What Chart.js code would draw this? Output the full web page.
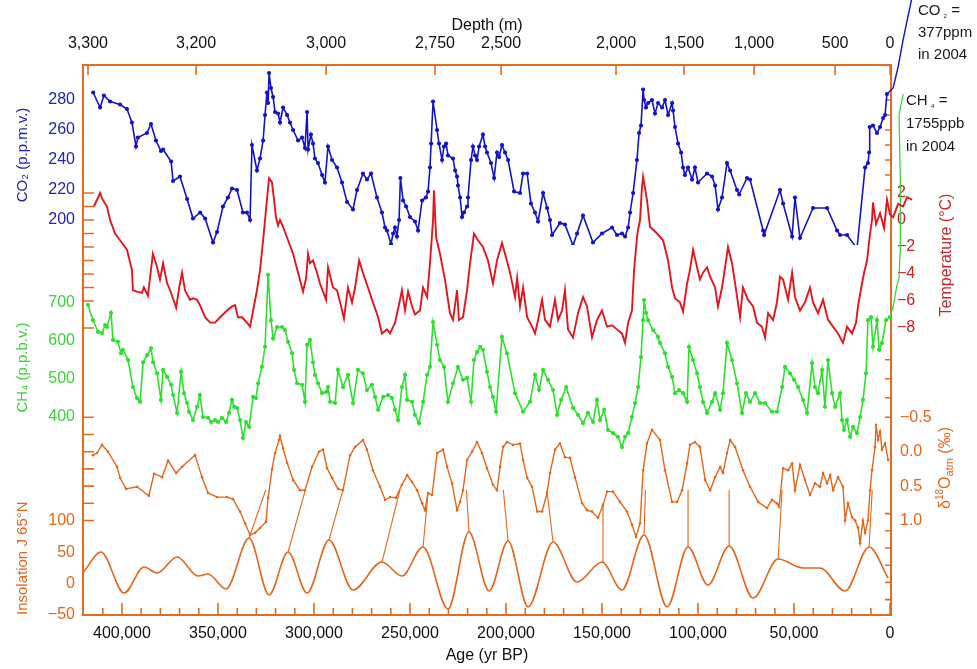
<!DOCTYPE html>
<html>
<head>
<meta charset="utf-8">
<script src="https://cdn.jsdelivr.net/npm/chart.js@4.4.1/dist/chart.umd.min.js"></script>
<style>
  html, body { margin: 0; padding: 0; background: #fff; }
  #wrap { width: 977px; height: 669px; }
</style>
</head>
<body>
<div id="wrap"><canvas id="vostok" width="977" height="669"></canvas></div>
<script>
// all ages in kyr BP
const co2Age = [
  415.0,411.4,409.4,406.2,401.0,397.4,394.8,392.7,391.7,387.0,
  384.9,382.3,379.7,378.6,374.4,373.4,369.8,366.1,363.0,359.3,
  356.7,352.6,350.5,347.4,344.8,342.7,340.1,337.0,334.9,333.3,
  332.3,329.7,328.1,326.5,325.5,324.5,323.9,323.4,322.4,321.3,
  320.3,318.7,317.7,316.1,314.0,312.5,310.9,308.3,306.2,304.7,
  303.6,303.1,301.6,300.5,299.5,297.9,295.8,294.3,292.7,290.6,
  288.0,285.4,282.8,279.7,277.6,274.5,272.4,270.3,267.2,264.6,
  263.0,262.0,259.9,258.8,257.8,256.8,255.7,255.0,253.6,252.0,
  250.0,247.4,245.8,243.7,241.7,240.6,239.6,239.0,238.0,235.9,
  234.9,233.3,232.3,231.2,230.2,227.6,226.5,225.5,225.0,223.9,
  222.9,221.9,220.3,219.8,218.2,217.2,216.1,215.1,214.0,212.0,
  210.9,209.9,207.8,206.2,204.7,203.6,202.1,200.5,198.9,195.8,
  192.7,191.1,189.0,187.0,184.9,183.3,180.7,178.6,177.1,176.0,
  171.9,169.3,165.1,163.0,159.9,154.7,150.0,144.8,142.2,139.6,
  138.0,136.4,135.4,133.8,131.8,130.7,129.7,128.6,128.1,127.1,
  126.0,124.0,122.4,120.8,118.7,117.2,115.6,113.5,113.0,112.0,
  110.4,108.8,107.8,106.8,105.2,103.1,101.6,100.0,95.3,92.7,
  91.1,89.6,87.5,84.9,83.3,79.7,78.6,74.5,72.9,66.1,
  65.6,57.3,55.7,51.0,49.5,46.9,40.1,32.8,27.6,26.0,
  22.4,17.2,13.0,11.5,10.9,10.6,8.9,6.8,5.2,3.6,
  2.6,1.6
];
const co2Ppm = [
  285,275,283,279,277,274,265,249,255,258,
  264,253,246,247,239,226,229,214,201,205,
  201,185,192,209,215,221,220,205,205,200,
  250,233,241,253,270,285,278,298,288,282,
  272,271,265,275,270,265,260,253,255,248,
  272,247,257,251,241,238,230,225,249,240,
  235,225,212,207,220,231,227,231,215,205,
  195,193,184,191,195,189,200,228,213,209,
  202,199,193,213,215,219,235,251,279,260,
  251,240,249,251,243,241,233,229,223,215,
  202,205,209,215,240,249,243,240,249,257,
  249,245,238,228,245,242,250,245,240,219,
  218,231,231,211,205,199,218,208,200,190,
  198,197,183,191,203,185,191,195,190,191,
  189,195,205,218,240,258,263,287,280,275,
  278,280,271,278,275,280,270,278,273,262,
  251,245,235,230,235,227,235,225,231,229,
  223,207,215,238,233,220,217,228,227,193,
  190,220,211,189,215,188,208,208,193,190,
  190,181,235,238,245,262,263,258,262,268,
  270,284
];
// modern rise drawn past the frame
const co2ModAge = [1.6,-1.6,-4.2,-6.8,-8.9,-10.9,-14.6];
const co2ModPpm = [284,288,302,320,333,345,377];

const tempAge = [
  414.6,411.4,410.4,407.8,406.2,403.6,401.0,397.4,394.8,394.3,
  392.2,389.6,388.6,386.5,383.9,381.7,380.2,378.6,376.5,374.9,
  371.8,370.2,368.7,367.2,364.6,363.0,360.9,359.4,356.7,354.1,
  351.5,348.9,345.3,342.7,341.1,339.6,337.5,334.9,333.3,331.7,
  329.7,328.1,326.5,325.5,324.5,323.4,321.9,320.8,319.8,318.7,
  317.7,316.1,313.5,310.9,308.3,305.7,304.1,303.1,302.1,300.5,
  298.4,296.9,293.7,292.7,290.1,288.0,286.4,284.4,282.3,280.2,
  278.6,276.5,274.5,271.9,269.3,266.6,264.6,262.0,260.4,257.8,
  255.2,254.2,252.6,251.0,248.9,247.4,244.8,243.2,241.1,239.6,
  238.0,237.5,236.4,234.4,231.8,229.2,227.6,225.5,224.5,222.4,
  220.3,218.7,216.7,214.6,212.0,209.4,206.8,204.7,202.1,200.5,
  197.9,195.3,194.2,192.7,191.1,189.0,186.4,184.9,183.3,181.2,
  179.7,177.1,174.5,172.9,170.8,169.3,167.7,165.1,162.5,159.9,
  157.8,155.2,152.6,150.0,147.4,144.8,142.2,139.6,138.0,136.4,
  134.4,133.3,131.8,131.2,130.2,129.2,128.6,126.6,125.0,121.3,
  118.2,115.6,113.5,112.0,109.4,107.8,105.7,104.2,102.6,100.5,
  99.0,97.4,95.3,93.7,91.1,89.6,87.5,85.4,84.4,82.3,
  80.7,78.1,76.6,74.0,71.3,69.3,66.7,65.1,63.5,60.9,
  58.9,57.3,55.7,53.1,51.0,49.5,46.9,44.3,41.7,40.1,
  37.5,34.9,32.3,29.7,27.1,24.5,22.4,19.8,17.7,16.7,
  14.6,13.5,12.0,10.4,9.4,8.9,7.3,5.2,3.1,1.6,
  0.0,-1.6,-4.2,-6.8,-8.9,-11.5
];
const tempC = [
  1.0,2.0,1.6,1.0,0.0,-1.0,-1.5,-2.2,-3.7,-5.2,
  -5.3,-5.4,-5.0,-5.6,-2.5,-3.5,-4.4,-3.2,-4.7,-5.2,
  -6.5,-5.0,-3.9,-5.2,-5.9,-5.8,-5.9,-6.3,-7.2,-7.6,
  -7.6,-7.2,-6.7,-6.4,-6.3,-7.2,-7.2,-7.6,-7.9,-6.7,
  -5.2,-3.7,-1.5,0.0,1.5,3.1,2.8,1.5,0.2,-0.4,
  0.0,-0.5,-1.5,-2.5,-3.9,-5.3,-4.3,-2.5,-3.2,-3.0,
  -3.9,-4.7,-5.9,-3.5,-5.0,-5.2,-6.1,-7.3,-5.0,-6.1,
  -5.0,-3.0,-3.9,-5.0,-6.1,-7.2,-8.4,-8.1,-8.4,-7.6,
  -5.9,-5.2,-6.7,-5.3,-6.4,-7.0,-6.7,-5.0,-5.7,-3.2,
  0.0,2.2,-1.3,-2.5,-4.4,-6.9,-7.4,-5.2,-7.4,-7.2,
  -5.2,-3.2,-1.0,-1.5,-2.0,-3.0,-4.7,-3.0,-1.7,-2.5,
  -3.9,-5.7,-4.3,-6.4,-5.0,-7.2,-7.9,-8.4,-7.4,-5.9,
  -7.4,-7.9,-5.9,-7.4,-6.7,-5.2,-8.1,-8.7,-6.9,-5.7,
  -6.4,-8.7,-7.4,-6.7,-7.9,-7.8,-8.1,-8.4,-9.1,-7.6,
  -6.7,-3.7,-1.3,-0.7,0.0,2.4,3.2,1.5,-0.5,-1.0,
  -1.5,-3.0,-5.0,-5.8,-6.1,-6.8,-4.7,-3.7,-2.2,-3.5,
  -4.4,-3.9,-3.5,-4.2,-5.0,-6.4,-5.0,-3.0,-2.0,-3.2,
  -4.7,-7.2,-5.0,-5.9,-6.4,-7.6,-7.9,-8.7,-6.9,-7.4,
  -6.1,-4.2,-4.4,-5.9,-3.9,-5.7,-6.7,-6.1,-5.0,-6.1,
  -6.9,-5.9,-7.4,-7.9,-8.4,-9.1,-7.9,-8.4,-7.6,-6.4,
  -4.7,-3.9,-3.0,-1.0,0.0,1.3,-0.3,0.5,-0.6,1.5,
  0.4,0.2,1.2,1.0,1.7,1.5
];

const ch4Age = [
  417.7,415.1,412.5,410.4,408.8,407.8,405.7,404.7,402.1,400.5,
  399.5,396.8,394.3,392.2,390.6,389.0,386.9,384.9,383.8,381.7,
  379.7,378.6,376.5,374.4,373.4,371.3,369.2,367.7,366.1,365.1,
  363.0,360.9,359.4,357.8,355.2,353.6,351.5,350.0,347.9,345.8,
  344.2,342.7,341.6,340.1,338.5,337.0,335.4,333.8,331.7,330.2,
  329.1,327.1,325.5,323.9,322.4,321.3,319.2,316.6,315.1,313.5,
  311.4,310.4,308.8,306.2,304.7,303.6,302.1,300.5,299.5,297.9,
  295.8,293.7,292.7,291.6,289.0,287.5,284.9,282.3,279.7,277.1,
  274.5,272.4,269.8,268.2,266.6,264.0,261.4,259.4,257.8,256.2,
  254.2,252.6,251.5,248.9,247.4,245.3,243.2,241.1,239.6,238.0,
  235.9,234.4,232.3,230.2,227.6,225.0,222.4,220.3,218.2,216.7,
  215.1,213.5,212.0,209.9,208.3,206.8,205.2,202.1,199.5,195.3,
  191.1,187.5,184.9,182.8,180.7,178.1,175.5,173.4,171.3,168.7,
  165.1,162.5,159.9,157.3,154.7,152.6,151.0,148.9,146.9,144.3,
  141.7,139.6,138.0,136.4,134.4,132.8,131.2,129.7,128.6,128.1,
  127.1,126.0,123.4,120.8,119.8,117.2,115.6,113.5,112.0,109.9,
  107.8,105.7,104.7,102.6,100.5,99.0,97.4,95.3,92.7,91.1,
  88.5,87.0,84.9,82.3,79.7,77.1,75.0,72.9,70.3,67.7,
  65.1,61.5,58.9,56.2,54.7,52.1,50.0,47.9,45.3,43.2,
  40.6,39.1,37.5,35.4,33.9,32.3,30.2,28.6,26.0,25.0,
  24.0,22.4,20.8,19.3,17.2,15.6,14.1,12.5,11.5,9.9,
  8.9,6.8,5.7,4.2,2.1,0.0
];
const ch4Ppb = [
  694,654,623,620,641,636,673,602,597,567,
  576,549,478,449,439,543,562,580,543,514,
  444,523,505,484,457,410,518,462,436,413,
  391,426,457,399,397,386,391,386,397,386,
  410,444,426,423,391,344,386,373,452,449,
  488,531,584,773,654,606,636,636,628,597,
  567,523,488,484,439,589,602,543,510,488,
  462,465,478,439,436,523,478,510,436,523,
  514,470,484,452,418,452,457,449,418,391,
  478,510,444,439,405,383,439,510,531,649,
  589,549,531,439,488,531,497,502,439,549,
  570,584,576,518,478,452,413,610,567,462,
  413,439,510,470,523,497,470,405,444,478,
  423,405,383,410,386,444,391,418,365,357,
  347,320,347,357,399,436,478,557,654,707,
  673,654,628,610,594,567,531,505,462,470,
  462,439,584,549,514,478,439,410,439,462,
  418,462,594,549,488,410,462,439,462,436,
  436,413,413,478,531,514,497,478,444,410,
  541,478,462,523,426,549,462,426,462,391,
  365,391,347,373,357,399,444,514,654,662,
  584,654,576,594,654,662
];
const ch4ModAge = [0.0,-1.6,-3.6,-4.7,-5.2,-5.3,-5.4,-4.7,-6.8];
const ch4ModPpb = [662,689,746,764,830,917,1022,1194,1249];

const isoAge = [
  415.1,413.0,410.4,407.3,402.6,401.0,397.9,392.2,386.0,383.3,
  379.1,376.0,371.8,368.7,362.0,358.3,355.2,350.5,345.3,342.2,
  338.5,335.9,333.3,330.7,328.1,325.0,323.9,321.9,320.3,318.2,
  317.7,316.1,314.0,310.9,307.3,304.7,301.0,297.4,295.3,293.2,
  290.6,287.5,284.9,281.2,278.6,274.5,272.4,269.3,265.6,263.0,
  260.4,257.3,254.2,251.5,248.9,246.3,243.7,242.2,240.6,238.5,
  235.9,232.8,230.7,228.1,225.5,223.9,222.4,220.3,217.7,215.1,
  212.5,209.9,206.8,204.7,203.1,201.5,199.5,196.3,192.7,191.1,
  189.0,186.4,183.8,181.2,178.6,177.1,174.5,171.9,169.3,166.7,
  164.1,160.4,157.8,155.2,152.1,149.5,147.4,144.3,140.6,137.0,
  134.4,132.3,130.2,128.6,126.6,124.0,119.8,117.2,113.5,110.9,
  108.3,105.7,104.2,101.6,99.0,96.3,93.7,91.1,88.5,87.0,
  84.9,83.3,80.7,76.6,72.9,68.7,64.1,61.5,58.9,57.8,
  55.7,53.1,51.0,49.5,46.9,44.3,41.7,39.1,36.5,34.9,
  32.8,31.2,29.7,27.1,24.5,23.4,21.9,19.8,18.2,16.7,
  15.6,14.1,13.0,11.5,10.4,9.4,7.8,7.3,6.2,5.2,
  4.2,2.6,1.0
];
const isoPermil = [
  0.05,0.02,-0.10,0.00,0.22,0.38,0.54,0.51,0.64,0.32,
  0.37,0.13,0.31,0.22,0.05,0.37,0.60,0.66,0.66,0.69,
  0.87,1.04,1.21,1.18,1.11,1.02,0.67,0.26,0.02,-0.17,
  -0.23,-0.05,0.16,0.41,0.56,0.56,0.22,0.00,-0.03,0.24,
  0.38,0.54,0.56,0.05,-0.07,-0.17,-0.03,0.27,0.51,0.70,
  0.66,0.67,0.48,0.34,0.44,0.56,0.75,0.85,0.60,0.63,
  0.02,-0.03,0.22,0.46,0.85,0.73,0.56,0.12,0.00,-0.14,
  0.02,0.24,0.48,0.56,0.22,-0.07,-0.14,-0.10,-0.12,0.12,
  0.38,0.51,0.87,0.87,0.60,0.31,-0.03,-0.12,0.08,0.09,
  0.37,0.75,0.85,0.87,0.96,0.78,0.58,0.58,0.73,0.87,
  1.06,1.24,1.04,0.27,-0.12,-0.32,-0.17,0.27,0.73,0.73,
  0.56,0.17,-0.10,-0.14,-0.07,0.41,0.56,0.37,0.22,0.31,
  0.02,-0.17,-0.07,0.27,0.51,0.73,0.82,0.70,0.75,0.80,
  0.24,0.27,0.17,0.56,0.19,0.41,0.63,0.46,0.51,0.31,
  0.46,0.34,0.56,0.37,0.51,1.00,0.75,0.95,1.00,1.10,
  1.33,1.00,1.18,1.00,0.56,0.27,-0.07,-0.39,-0.17,-0.29,
  -0.03,-0.12,0.12
];

// insolation J 65N, peaks and troughs
const insAge = [
  420.0,410.9,398.9,388.5,381.7,371.3,360.4,355.2,345.8,333.8,
  323.4,313.5,303.6,292.2,279.7,264.6,254.2,243.2,230.2,219.3,
  208.8,198.9,188.5,175.5,163.0,150.0,139.6,128.1,116.1,105.2,
  94.8,83.8,71.3,58.3,45.3,36.5,23.4,10.9,1.0
];
const insVal = [
  18.6,50.5,-14.9,26.6,17.0,42.5,12.2,15.4,-8.5,72.8,
  -18.1,50.5,-14.9,69.6,-10.1,34.5,12.2,58.5,-40.4,82.4,
  -11.7,68.0,-37.2,66.4,2.6,34.5,-10.1,77.6,-37.2,58.5,
  -2.2,60.0,-22.9,39.3,25.0,25.0,-11.7,58.5,9.0
];

// tie lines: insolation peak -> matching point on the d18O curve (insolation units)
const tieInsAge = [333.8,313.5,292.2,264.6,243.2,219.3,198.9,175.5,150.0,128.1,105.2,83.8,58.3,10.9];
const tieInsVal = [72.8,50.5,69.6,34.5,58.5,82.4,68.0,66.4,34.5,77.6,58.5,60.0,39.3,58.5];
const tieIsoAge = [321.9,302.1,284.9,255.2,240.6,221.3,202.1,179.2,149.5,126.6,105.2,83.8,55.7,7.5];
const tieIsoVal = [178,176,150,150,145,185,173,162,129,232,173,237,178,250];

// axes
const ageTicks = [0,10,20,30,40,50,60,70,80,90,100,110,120,130,140,150,160,170,180,190,
  200,210,220,230,240,250,260,270,280,290,300,310,320,330,340,350,360,370,380,390,400,410];
const depthAge = [417.7,361.4,293.7,237.0,202.6,142.7,107.3,70.8,28.6,0];
const depthLabels = ['3,300','3,200','3,000','2,750','2,500','2,000','1,500','1,000','500','0'];
const co2Ticks = [200,220,240,260,280];
const ch4Ticks = [400,500,600,700];
const insTicks = [-50,0,50,100];
const tempTicks = [2,0,-2,-4,-6,-8];
const isoTicks = [-0.5,0,0.5,1];

// unlabelled marks on the frame
const leftTempMarks = [2,1,0,-1,-2,-3,-4,-5,-6,-8];
const leftIsoMarks = [-0.5,-0.25,0,0.25,0.5,0.75,1];
const rightCo2Marks = [280,270,260,250,240,230,220];
const rightCh4Marks = [550,500,450];
const rightIsoMarks = [-0.5,0.9,1.15,1.4,1.65,1.9,2.15];

const fontFamily = '"Liberation Sans", Arial, Helvetica, sans-serif';
const orange = '#e2661c';
const frameColor = '#e46c20';
const blue = '#1414c4';
const green = '#2ee02e';
const red = '#e3161f';

Chart.defaults.font.family = fontFamily;
Chart.defaults.font.size = 16;
Chart.defaults.color = '#111';

function pts(xs, ys) {
  return xs.map((x, i) => ({ x: x, y: ys[i] }));
}

function tiePoints() {
  const out = [];
  tieInsAge.forEach((a, i) => {
    out.push({ x: a, y: tieInsVal[i] });
    out.push({ x: tieIsoAge[i], y: tieIsoVal[i] });
    out.push({ x: tieIsoAge[i], y: null });
  });
  return out;
}

function signed(v, digits) {
  const s = Math.abs(v).toFixed(digits);
  return v < 0 ? '\u2212' + s : s;
}

function useTicks(list) {
  return (s) => { s.ticks = list.map(v => ({ value: v })); };
}

function drawRich(ctx, parts, x, y) {
  let width = 0;
  parts.forEach(p => { ctx.font = p[1] + 'px ' + fontFamily; width += ctx.measureText(p[0]).width; });
  let cx = x - width / 2;
  parts.forEach(p => {
    ctx.font = p[1] + 'px ' + fontFamily;
    ctx.fillText(p[0], cx, y + (p[2] || 0));
    cx += ctx.measureText(p[0]).width;
  });
}

function drawRichLeft(ctx, parts, x, y) {
  let cx = x;
  parts.forEach(p => {
    ctx.font = p[1] + 'px ' + fontFamily;
    ctx.fillText(p[0], cx, y + (p[2] || 0));
    cx += ctx.measureText(p[0]).width;
  });
}

const framePlugin = {
  id: 'frame',
  beforeDatasetsDraw(chart) {
    const { ctx, chartArea: a, scales } = chart;
    ctx.save();
    ctx.strokeStyle = frameColor;
    ctx.lineWidth = 2;
    ctx.strokeRect(a.left, a.top, a.right - a.left, a.bottom - a.top);
    ctx.lineWidth = 1.6;
    ctx.beginPath();
    scales.x.ticks.forEach(t => {
      const px = scales.x.getPixelForValue(t.value);
      const len = t.value % 50 === 0 ? 12 : 7;
      ctx.moveTo(px, a.bottom);
      ctx.lineTo(px, a.bottom - len);
    });
    scales.depth.ticks.forEach(t => {
      const px = scales.depth.getPixelForValue(t.value);
      ctx.moveTo(px, a.top);
      ctx.lineTo(px, a.top + 10);
    });
    leftTempMarks.forEach(v => {
      const py = scales.temp.getPixelForValue(v);
      ctx.moveTo(a.left, py); ctx.lineTo(a.left + 11, py);
    });
    leftIsoMarks.forEach(v => {
      const py = scales.iso.getPixelForValue(v);
      ctx.moveTo(a.left, py); ctx.lineTo(a.left + 11, py);
    });
    rightCo2Marks.forEach(v => {
      const py = scales.co2.getPixelForValue(v);
      ctx.moveTo(a.right, py); ctx.lineTo(a.right - 6, py);
    });
    rightCh4Marks.forEach(v => {
      const py = scales.ch4.getPixelForValue(v);
      ctx.moveTo(a.right, py); ctx.lineTo(a.right - 6, py);
    });
    rightIsoMarks.forEach(v => {
      const py = scales.iso.getPixelForValue(v);
      ctx.moveTo(a.right, py); ctx.lineTo(a.right - 6, py);
    });
    ctx.stroke();
    ctx.restore();
  }
};

const notesPlugin = {
  id: 'notes',
  afterDraw(chart) {
    const { ctx, chartArea: a } = chart;
    ctx.save();
    ctx.textBaseline = 'middle';
    ctx.textAlign = 'left';

    // right-hand axis titles, reading bottom to top
    ctx.fillStyle = '#c4262c';
    ctx.translate(a.right + 56, a.top + 190);
    ctx.rotate(-Math.PI / 2);
    drawRich(ctx, [['Temperature (\u00b0C)', 16]], 0, 0);
    ctx.setTransform(1, 0, 0, 1, 0, 0);

    ctx.fillStyle = orange;
    ctx.translate(a.right + 55, a.top + 403);
    ctx.rotate(-Math.PI / 2);
    drawRich(ctx, [['\u03b4', 16], ['18', 10, -6], ['O', 16], ['atm', 11, 4], [' (\u2030)', 16]], 0, 0);
    ctx.setTransform(1, 0, 0, 1, 0, 0);

    // 2004 values
    ctx.fillStyle = '#1a1a1a';
    const cx = a.right + 27;
    drawRichLeft(ctx, [['CO', 15], [' \u2082', 10, 3], [' =', 15]], cx, 11);
    drawRichLeft(ctx, [['377ppm', 15]], cx, 33);
    drawRichLeft(ctx, [['in 2004', 15]], cx, 55);
    const hx = a.right + 15;
    drawRichLeft(ctx, [['CH', 15], [' \u2084', 10, 3], [' =', 15]], hx, 101);
    drawRichLeft(ctx, [['1755ppb', 15]], hx, 124);
    drawRichLeft(ctx, [['in 2004', 15]], hx, 147);
    ctx.restore();
  }
};

function leftAxis(opts) {
  return Object.assign({
    type: 'linear',
    position: 'left',
    stack: 'left',
    grid: { display: false, drawTicks: false },
    border: { display: false },
    afterFit: (s) => { s.width = 83; }
  }, opts);
}

function rightAxis(opts) {
  return Object.assign({
    type: 'linear',
    position: 'right',
    stack: 'right',
    grid: { display: false, drawTicks: false },
    border: { display: false },
    afterFit: (s) => { s.width = 86; }
  }, opts);
}

new Chart(document.getElementById('vostok'), {
  type: 'line',
  data: {
    datasets: [
      { label: 'CO2', data: pts(co2Age, co2Ppm), yAxisID: 'co2', borderColor: blue, backgroundColor: blue,
        borderWidth: 1.6, pointRadius: 2.1, pointBorderWidth: 0, pointBackgroundColor: blue },
      { label: 'CO2 2004', data: pts(co2ModAge, co2ModPpm), yAxisID: 'co2', borderColor: blue,
        borderWidth: 1.4, pointRadius: 0, clip: false },
      { label: 'Temperature', data: pts(tempAge, tempC), yAxisID: 'temp', borderColor: red,
        borderWidth: 1.9, pointRadius: 0, clip: false },
      { label: 'CH4', data: pts(ch4Age, ch4Ppb), yAxisID: 'ch4', borderColor: green, backgroundColor: green,
        borderWidth: 1.6, pointRadius: 2.1, pointBorderWidth: 0, pointBackgroundColor: green },
      { label: 'CH4 2004', data: pts(ch4ModAge, ch4ModPpb), yAxisID: 'ch4', borderColor: '#3cd63c',
        borderWidth: 1.3, pointRadius: 0, clip: false },
      { label: 'd18O atm', data: pts(isoAge, isoPermil), yAxisID: 'iso', borderColor: orange,
        borderWidth: 1.4, pointRadius: 1.3, pointBorderWidth: 0, pointBackgroundColor: orange },
      { label: 'Insolation', data: pts(insAge, insVal), yAxisID: 'ins', borderColor: orange,
        borderWidth: 1.6, pointRadius: 0, cubicInterpolationMode: 'monotone' },
      { label: 'ties', data: tiePoints(), yAxisID: 'ins', borderColor: orange,
        borderWidth: 1.1, pointRadius: 0, spanGaps: false }
    ]
  },
  options: {
    responsive: false,
    animation: false,
    devicePixelRatio: 1,
    layout: { padding: 0 },
    plugins: { legend: { display: false }, tooltip: { enabled: false } },
    scales: {
      x: {
        type: 'linear', position: 'bottom', reverse: true, min: -0.5, max: 420.3,
        grid: { display: false, drawTicks: false }, border: { display: false },
        afterBuildTicks: useTicks(ageTicks),
        afterFit: (s) => { s.height = 54; },
        ticks: { autoSkip: false, maxRotation: 0, padding: 9, color: '#111',
          callback: (v) => (v % 50 === 0 ? (v * 1000).toLocaleString('en-US') : '') },
        title: { display: true, text: 'Age (yr BP)', color: '#111', font: { size: 16 },
          padding: { top: 0, bottom: 4 } }
      },
      depth: {
        type: 'linear', position: 'top', reverse: true, min: -0.5, max: 420.3,
        grid: { display: false, drawTicks: false }, border: { display: false },
        afterBuildTicks: useTicks(depthAge),
        afterFit: (s) => { s.height = 65; },
        ticks: { autoSkip: false, maxRotation: 0, padding: 12, color: '#111',
          callback: (v, i) => depthLabels[i] },
        title: { display: true, text: 'Depth (m)', color: '#111', font: { size: 16 },
          padding: { top: 16, bottom: 0 } }
      },
      co2: leftAxis({
        weight: 3, stackWeight: 180, min: 183.33, max: 303.33,
        afterBuildTicks: useTicks(co2Ticks),
        ticks: { padding: 8, color: '#2323b4' },
        title: { display: true, text: 'CO\u2082 (p.p.m.v.)', color: '#2323b4', font: { size: 15 },
          padding: { top: 14, bottom: 0 } }
      }),
      ch4: leftAxis({
        weight: 2, stackWeight: 245, min: 207.1, max: 851.8,
        afterBuildTicks: useTicks(ch4Ticks),
        ticks: { padding: 8, color: '#3fcf3f' },
        title: { display: true, text: 'CH\u2084 (p.p.b.v.)', color: '#3fcf3f', font: { size: 15 },
          padding: { top: 14, bottom: 0 } }
      }),
      ins: leftAxis({
        weight: 1, stackWeight: 125, min: -50, max: 149.4,
        afterBuildTicks: useTicks(insTicks),
        ticks: { padding: 8, color: orange, callback: (v) => signed(v, 0) },
        title: { display: true, text: 'Insolation J 65\u00b0N', color: orange, font: { size: 15 },
          align: 'start', padding: { top: 14, bottom: 0 } }
      }),
      temp: rightAxis({
        weight: 1, stackWeight: 340, min: -13.70, max: 11.48,
        afterBuildTicks: useTicks(tempTicks),
        ticks: { padding: 6, color: '#c8202a', callback: (v) => signed(v, 0) }
      }),
      iso: rightAxis({
        weight: 2, stackWeight: 210, reverse: true, min: -0.679, max: 2.374,
        afterBuildTicks: useTicks(isoTicks),
        ticks: { padding: 9, color: orange, callback: (v) => signed(v, 1) }
      })
    }
  },
  plugins: [framePlugin, notesPlugin]
});
</script>
</body>
</html>
